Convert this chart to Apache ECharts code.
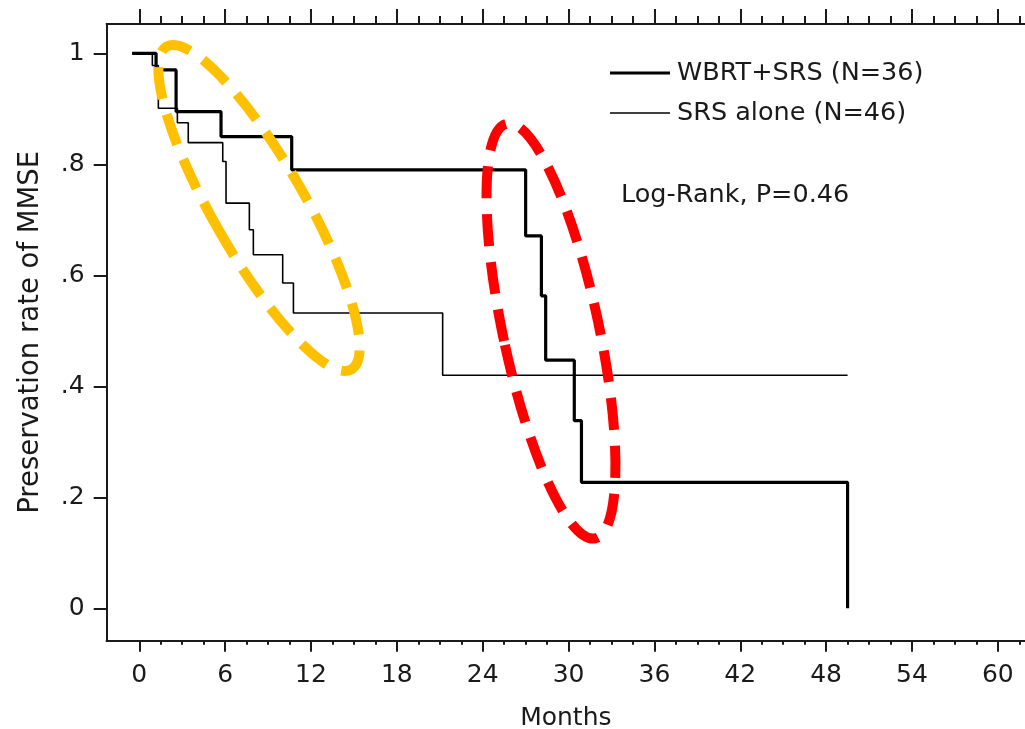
<!DOCTYPE html>
<html>
<head>
<meta charset="utf-8">
<script src="https://cdn.jsdelivr.net/npm/echarts@6/dist/echarts.min.js"></script>
<style>
html,body{margin:0;padding:0;background:#fff;}
#chart{width:1025px;height:729px;}
</style>
</head>
<body>
<div id="chart"></div>
<script>
// ---- Data (Kaplan-Meier step curves) ----
const wbrtTimes = [-0.5, 1.17, 2.57, 5.71, 10.65, 27.0, 28.1, 28.4, 30.4, 30.9, 49.5];
const wbrtSurv  = [1.0, 0.970, 0.895, 0.850, 0.790, 0.671, 0.563, 0.447, 0.338, 0.227, 0.0];

const srsTimes = [-0.5, 0.91, 1.33, 2.66, 3.42, 5.83, 6.06, 7.69, 7.97, 10.02, 10.77, 21.2, 49.5];
const srsSurv  = [1.0, 0.978, 0.901, 0.875, 0.839, 0.805, 0.730, 0.682, 0.637, 0.586, 0.532, 0.420, 0.420];

const seriesNames = ['WBRT+SRS (N=36)', 'SRS alone (N=46)'];
const annotation = 'Log-Rank, P=0.46';

const xMajorTicks = [0, 6, 12, 18, 24, 30, 36, 42, 48, 54, 60];
const xMinorTicks = [1.5, 3, 4.5, 7.5, 9, 10.5, 13.5, 15, 16.5, 19.5, 21, 22.5, 25.5, 27, 28.5,
                     31.5, 33, 34.5, 37.5, 39, 40.5, 43.5, 45, 46.5, 49.5, 51, 52.5, 55.5, 57, 58.5, 61.5];
const yTicks = [0, 0.2, 0.4, 0.6, 0.8, 1];
const yTickLabels = ['0', '.2', '.4', '.6', '.8', '1'];

const xTitle = 'Months';
const yTitle = 'Preservation rate of MMSE';

// ---- Build chart ----
const FONT = 'DejaVu Sans';
const INK = '#1a1a1a';
const pairs = (ts, vs) => ts.map((t, i) => [t, vs[i]]);

function xAxisDef(position, ticks, len, showLabel, name) {
  return {
    type: 'value', position: position, min: -2.28, max: 61.9,
    name: name || '', nameLocation: 'middle', nameGap: 65,
    nameTextStyle: {fontFamily: FONT, fontSize: 25, color: INK},
    axisLine: {show: true, onZero: false, lineStyle: {color: INK, width: 2}},
    axisTick: {show: true, customValues: ticks, length: len, lineStyle: {color: INK, width: 2}},
    axisLabel: showLabel ? {show: true, customValues: ticks, margin: 22,
      fontFamily: FONT, fontSize: 25, color: INK} : {show: false},
    splitLine: {show: false}
  };
}

// dashed highlight ellipses drawn over the plot (annotation overlay)
function highlight(cx, cy, rx, ry, rot, color) {
  return {
    type: 'ellipse', z: 100, x: cx, y: cy, rotation: rot,
    shape: {cx: 0, cy: 0, rx: rx, ry: ry},
    style: {fill: 'none', stroke: color, lineWidth: 10, lineDash: [32, 16], lineCap: 'butt'}
  };
}

const chart = echarts.init(document.getElementById('chart'), null, {renderer: 'canvas'});
chart.setOption({
  animation: false,
  backgroundColor: '#ffffff',
  grid: {left: 106.7, top: 24, right: 0, bottom: 88.3, containLabel: false, outerBoundsMode: 'none'},
  title: {
    text: annotation, left: 616, top: 177,
    textStyle: {fontFamily: FONT, fontSize: 25.5, fontWeight: 'normal', color: INK}
  },
  legend: {
    orient: 'vertical', left: 605, top: 55, itemWidth: 60, itemHeight: 18, itemGap: 14,
    symbolKeepAspect: true,
    data: [
      {name: seriesNames[0], icon: 'path://M0,0h60v3.2h-60z'},
      {name: seriesNames[1], icon: 'path://M0,0h60v1.6h-60z'}
    ],
    textStyle: {fontFamily: FONT, fontSize: 25.5, color: INK, padding: [0, 0, 0, 2]}
  },
  xAxis: [
    xAxisDef('bottom', xMajorTicks, 11, true, xTitle),
    xAxisDef('bottom', xMinorTicks, 4, false),
    xAxisDef('top', xMajorTicks, 15, false),
    xAxisDef('top', xMinorTicks, 8, false)
  ],
  yAxis: {
    type: 'value', min: -0.0584, max: 1.0528,
    name: yTitle, nameLocation: 'middle', nameGap: 62,
    nameTextStyle: {fontFamily: FONT, fontSize: 27.5, color: INK},
    axisLine: {show: true, onZero: false, lineStyle: {color: INK, width: 2}},
    axisTick: {show: true, customValues: yTicks, length: 13, lineStyle: {color: INK, width: 2}},
    axisLabel: {show: true, customValues: yTicks, margin: 22, fontFamily: FONT, fontSize: 25, color: INK,
      formatter: function (v) { const i = yTicks.findIndex(t => Math.abs(t - v) < 1e-6); return i >= 0 ? yTickLabels[i] : ''; }},
    splitLine: {show: false}
  },
  graphic: [
    highlight(259, 208, 46, 186, 0.52, '#FFC000'),
    highlight(551, 331, 48, 212, 0.21, '#FF0000')
  ],
  series: [
    {
      name: seriesNames[0], type: 'line', step: 'end', xAxisIndex: 0,
      data: pairs(wbrtTimes, wbrtSurv), symbol: 'none', showSymbol: false,
      lineStyle: {color: '#000', width: 3.2}, itemStyle: {color: '#000'}
    },
    {
      name: seriesNames[1], type: 'line', step: 'end', xAxisIndex: 0,
      data: pairs(srsTimes, srsSurv), symbol: 'none', showSymbol: false,
      lineStyle: {color: '#000', width: 1.6}, itemStyle: {color: '#000'}
    }
  ]
});
</script>
</body>
</html>
